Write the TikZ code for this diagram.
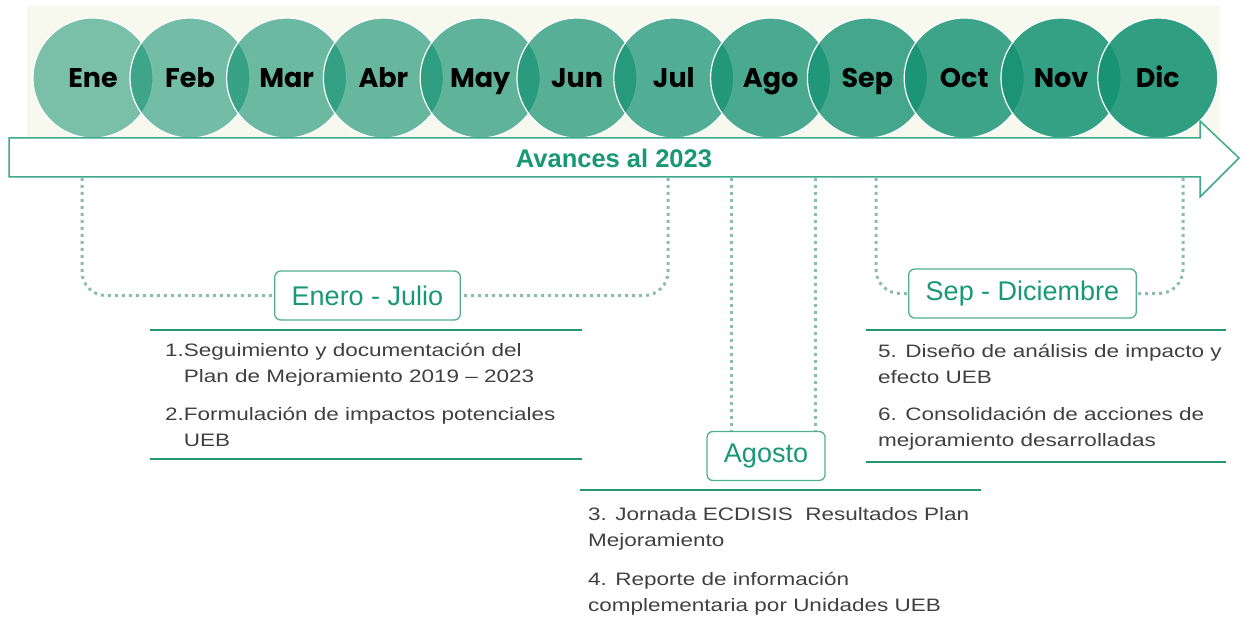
\documentclass[tikz,border=0pt]{standalone}
\usepackage{fontspec}
\setmainfont{Liberation Sans}
\newfontfamily\monthfont{Poppins}
\newfontfamily\listfont[FakeStretch=1.25]{Liberation Sans}
\usetikzlibrary{positioning}

\definecolor{cream}{RGB}{248,249,238}
\definecolor{monthfill}{RGB}{20,146,114}
\definecolor{arrowline}{RGB}{62,170,140}
\definecolor{titlegreen}{RGB}{24,152,116}
\definecolor{dotcol}{RGB}{140,188,174}
\definecolor{sepgreen}{RGB}{40,150,115}
\definecolor{boxline}{RGB}{82,174,146}
\definecolor{listgray}{RGB}{64,64,64}

\tikzset{
  month/.style={circle,minimum size=120pt,inner sep=0pt,fill=monthfill,
    draw=white,line width=1.2pt,text opacity=1,text height=19pt,text depth=0pt,
    font=\monthfont\bfseries\fontsize{27}{27}\selectfont},
  period/.style={draw=boxline,line width=1.3pt,rounded corners=6pt,fill=white,
    inner xsep=17pt,inner ysep=0pt,minimum height=49pt,text=titlegreen,
    font=\fontsize{27}{27}\selectfont},
  dotline/.style={dotcol,line width=3pt,dash pattern=on 3pt off 4pt,rounded corners=24pt},
  sepline/.style={sepgreen,line width=2pt},
  items/.style={anchor=north west,align=left,inner sep=0pt,text=listgray,
    font=\listfont\fontsize{18}{26}\selectfont}
}

\begin{document}
\begin{tikzpicture}[x=1pt,y=-1pt]
    \useasboundingbox (0,0) rectangle (1244,620);
    \fill[cream] (27,6) rectangle (1220,138);

    % months
    \node[month,fill opacity=0.55] (ene) at (93,78) {Ene};
    \node[month,fill opacity=0.58] (feb) at (190,78) {Feb};
    \node[month,fill opacity=0.61] (mar) at (286.6,78) {Mar};
    \node[month,fill opacity=0.64] (abr) at (383.4,78) {Abr};
    \node[month,fill opacity=0.67] (may) at (480.2,78) {May};
    \node[month,fill opacity=0.70] (jun) at (577,78) {Jun};
    \node[month,fill opacity=0.73] (jul) at (673.8,78) {Jul};
    \node[month,fill opacity=0.76] (ago) at (770.6,78) {Ago};
    \node[month,fill opacity=0.79] (sep) at (867.4,78) {Sep};
    \node[month,fill opacity=0.82] (oct) at (964.2,78) {Oct};
    \node[month,fill opacity=0.85] (nov) at (1061,78) {Nov};
    \node[month,fill opacity=0.88] (dic) at (1157.8,78) {Dic};

    % timeline arrow
    \draw[arrowline,fill=white,line width=1.5pt] (9,138) -- (1200,138) -- (1200,121)
        -- (1239,158) -- (1200,197) -- (1200,177) -- (9,177) -- cycle;
    \node[text=titlegreen,font=\bfseries\fontsize{25.5}{25.5}\selectfont] (bar) at (614,158) {Avances al 2023};

    % periods
    \node[period] (ej) at (367.5,295.5) {Enero - Julio};
    \node[period] (ag) at (766,456) {Agosto};
    \node[period] (sd) at (1022.5,293.5) {Sep - Diciembre};

    \coordinate (ene-drop) at (82,178);
    \coordinate (jul-drop) at (668,178);
    \coordinate (ago-dropa) at (731,178);
    \coordinate (ago-dropb) at (815,178);
    \coordinate (sep-drop) at (876,178);
    \coordinate (dic-drop) at (1183,178);

    \draw[dotline] (ene-drop) |- (ej.west);
    \draw[dotline] (jul-drop) |- (ej.east);
    \draw[dotline] (ago-dropa) -- (ago-dropa |- ag.north);
    \draw[dotline] (ago-dropb) -- (ago-dropb |- ag.north);
    \draw[dotline] (sep-drop) |- (sd.west);
    \draw[dotline] (dic-drop) |- (sd.east);

    % rules
    \draw[sepline] (150,330) -- (582,330);
    \draw[sepline] (150,459) -- (582,459);
    \draw[sepline] (866,330) -- (1226,330);
    \draw[sepline] (866,462) -- (1226,462);
    \draw[sepline] (580,490) -- (981,490);

    % activities
    \node[items] (act1) at (165,343) {1.Seguimiento y documentación del\\\phantom{1.}Plan de Mejoramiento 2019 – 2023};
    \node[items] (act2) at (165,407) {2.Formulación de impactos potenciales\\\phantom{2.}UEB};
    \node[items] (act3) at (588,507) {3. Jornada ECDISIS\ \ Resultados Plan\\Mejoramiento};
    \node[items] (act4) at (588,572) {4. Reporte de información\\complementaria por Unidades UEB};
    \node[items] (act5) at (878,344) {5. Diseño de análisis de impacto y\\efecto UEB};
    \node[items] (act6) at (878,407) {6. Consolidación de acciones de\\mejoramiento desarrolladas};
\end{tikzpicture}
\end{document}
